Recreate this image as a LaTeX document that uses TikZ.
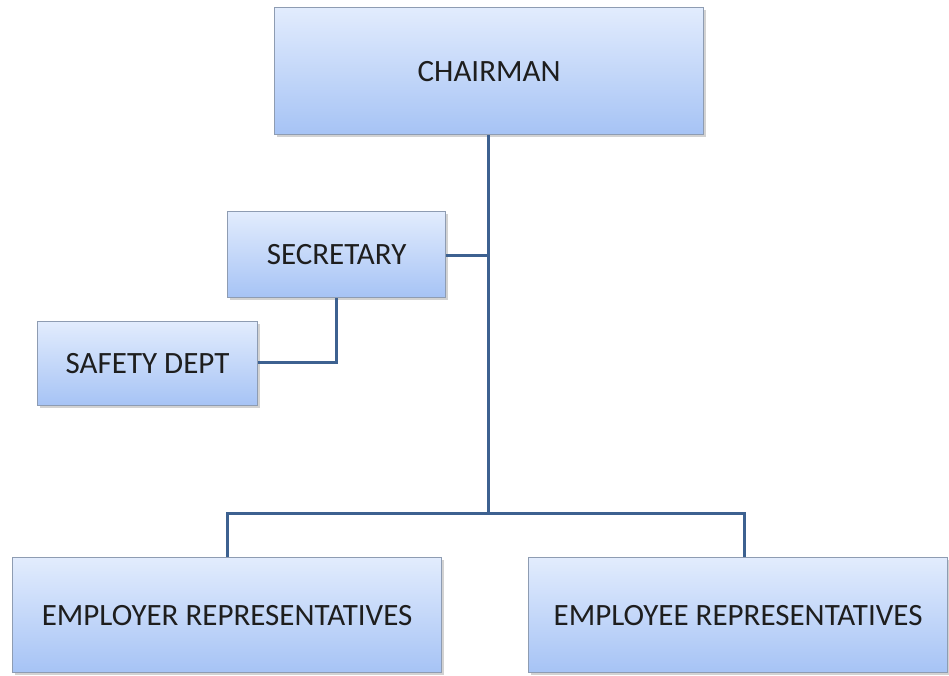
\documentclass[tikz,border=0pt]{standalone}
\usepackage{fontspec}
\setmainfont{Carlito}
\usetikzlibrary{shadows}
\definecolor{linec}{HTML}{3D6190}
\definecolor{topc}{HTML}{E2ECFD}
\definecolor{botc}{HTML}{A6C3F5}
\definecolor{edgec}{HTML}{8E9CB2}
\definecolor{txtc}{HTML}{1E1E1E}
\tikzset{
  orgbox/.style={draw=edgec, line width=1.2pt, top color=topc, bottom color=botc,
    anchor=north west, inner sep=0pt, text=txtc, font=\fontsize{31}{34}\selectfont,
    drop shadow={shadow xshift=2pt, shadow yshift=-2pt, fill=black!35, opacity=0.5}},
  link/.style={draw=linec, line width=3pt}
}
\begin{document}
\begin{tikzpicture}[x=1pt,y=-1pt]
\useasboundingbox (0,0) rectangle (949,675);
\node[orgbox, minimum width=429pt, minimum height=127pt] (chair) at (274,7) {CHAIRMAN};
\node[orgbox, minimum width=218pt, minimum height=86pt] (sec) at (227,211) {SECRETARY};
\node[orgbox, minimum width=220pt, minimum height=84pt] (safe) at (37,321) {SAFETY DEPT};
\node[orgbox, minimum width=429pt, minimum height=115pt] (emplr) at (12,557) {EMPLOYER\ REPRESENTATIVES};
\node[orgbox, minimum width=419pt, minimum height=115pt] (emple) at (528,557) {EMPLOYEE\ REPRESENTATIVES};
\coordinate (bus) at (488,513);
\coordinate (secj) at (488,255);
\coordinate (busl) at (227,513);
\coordinate (busr) at (744,513);
\coordinate (safej) at (336,362);
\draw[link] (chair.south -| bus) -- (bus);
\draw[link] (sec.east |- secj) -- (secj);
\draw[link] (sec.south -| safej) -- (safej) -- (safe.east |- safej);
\draw[link] (emplr.north -| busl) -- (busl) -- (busr) -- (emple.north -| busr);
\end{tikzpicture}
\end{document}
